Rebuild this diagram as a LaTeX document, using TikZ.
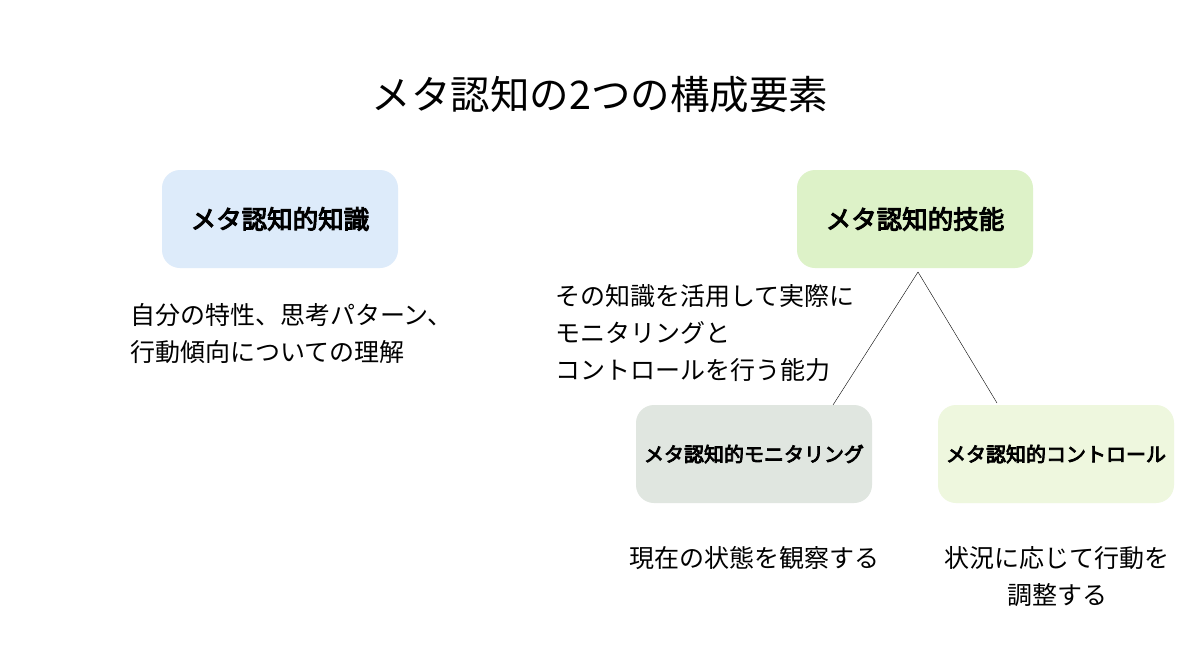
\documentclass[tikz,border=0pt]{standalone}
\usepackage{fontspec}
\setmainfont{Noto Sans CJK JP}
\newfontfamily\jpb{Noto Sans CJK JP}[FakeBold=4]
\definecolor{cblue}{HTML}{DDEBFA}
\definecolor{cgreen}{HTML}{DDF2C8}
\definecolor{cgray}{HTML}{E0E6E0}
\definecolor{clight}{HTML}{EEF7DE}
\begin{document}
\begin{tikzpicture}[x=1pt,y=-1pt,
  box/.style={rounded corners=18pt,minimum width=236pt,minimum height=98pt,inner sep=0pt,font=\jpb\fontsize{25.5}{28}\selectfont},
  desc/.style={font=\fontsize{25}{37}\selectfont,inner sep=0pt}]
\useasboundingbox[fill=white] (0,0) rectangle (1200,672);
\node[font=\fontsize{39.5}{44}\selectfont] (title) at (600,95) {メタ認知の2つの構成要素};
\node[box,fill=cblue] (k) at (280,219) {メタ認知的知識};
\node[box,fill=cgreen] (s) at (915,219) {メタ認知的技能};
\node[box,fill=cgray,font=\jpb\fontsize{20}{24}\selectfont] (m) at (754,454) {メタ認知的モニタリング};
\node[box,fill=clight,font=\jpb\fontsize{20}{24}\selectfont] (c) at (1056,454) {メタ認知的コントロール};
\coordinate (sp) at (918,272);
\draw (sp) -- (833,405);
\draw (sp) -- (997,403);
\node[desc,anchor=north west,align=left] (kd) at (130,303) {自分の特性、思考パターン、\\行動傾向についての理解};
\node[desc,anchor=north west,align=left] (sd) at (555,284) {その知識を活用して実際に\\モニタリングと\\コントロールを行う能力};
\node[desc] (md) at (754,558) {現在の状態を観察する};
\node[desc,align=center] (cd) at (1057,577) {状況に応じて行動を\\調整する};
\end{tikzpicture}
\end{document}
